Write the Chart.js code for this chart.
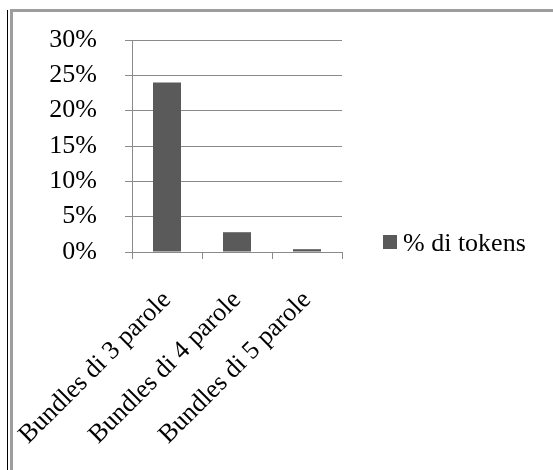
<!DOCTYPE html>
<html>
<head>
<meta charset="utf-8">
<script src="https://cdn.jsdelivr.net/npm/chart.js@4/dist/chart.umd.min.js"></script>
<style>
  html, body { margin: 0; padding: 0; background: #fff; }
  #wrap { position: relative; width: 553px; height: 470px; overflow: hidden; }
  .edge-dark { position: absolute; left: 7px; top: 10px; width: 1px; height: 460px; background: #000; }
  .edge-grey-top { position: absolute; left: 10px; top: 9px; width: 543px; height: 3px; background: #9d9d9d; }
  .edge-grey-left { position: absolute; left: 10px; top: 9px; width: 3px; height: 461px; background: #9d9d9d; }
  canvas { position: absolute; left: 0; top: 0; }
</style>
</head>
<body>
<div id="wrap">
  <div class="edge-dark"></div>
  <div class="edge-grey-top"></div>
  <div class="edge-grey-left"></div>
  <canvas id="c" width="553" height="470"></canvas>
</div>
<script>
// Share of tokens per lexical-bundle length
const categories = ['Bundles di 3 parole', 'Bundles di 4 parole', 'Bundles di 5 parole'];
const tokenShare = [24, 2.8, 0.4];
const seriesLabel = '% di tokens';
const yTicks = [0, 5, 10, 15, 20, 25, 30];

const FONT = 'Liberation Serif, "Times New Roman", serif';
const GRID = '#8a8a8a';
const BAR = '#5a5a5a';

// Legend drawn beside the plot, near the bottom of the plot area
const sideLegend = {
  id: 'sideLegend',
  afterDraw(chart) {
    const { ctx, chartArea } = chart;
    const ds = chart.data.datasets[0];
    const x = chartArea.right + 41;
    const cy = chartArea.bottom - 10;
    ctx.save();
    ctx.fillStyle = ds.backgroundColor;
    ctx.fillRect(x, cy - 7, 14, 14);
    ctx.fillStyle = '#000';
    ctx.font = '26px ' + FONT;
    ctx.textBaseline = 'middle';
    ctx.textAlign = 'left';
    ctx.fillText(ds.label, x + 20, cy + 2);
    ctx.restore();
  }
};

new Chart(document.getElementById('c'), {
  type: 'bar',
  data: {
    labels: categories,
    datasets: [{
      label: seriesLabel,
      data: tokenShare,
      backgroundColor: BAR,
      borderWidth: 0,
      barPercentage: 0.4,
      categoryPercentage: 1.0
    }]
  },
  options: {
    responsive: false,
    animation: false,
    devicePixelRatio: 1,
    layout: { padding: { left: 0, right: 211, top: 40, bottom: 0 } },
    plugins: { legend: { display: false }, tooltip: { enabled: false } },
    scales: {
      x: {
        grid: { display: true, drawOnChartArea: false, drawTicks: true, tickLength: 7, color: GRID, lineWidth: 1 },
        border: { display: true, color: GRID, width: 1 },
        ticks: {
          color: '#000',
          font: { family: FONT, size: 26 },
          minRotation: 45,
          maxRotation: 45,
          padding: 26,
          autoSkip: false
        },
        afterFit(scale) {
          scale.height = 218;
          scale.paddingLeft = 0;
          scale.paddingRight = 0;
        }
      },
      y: {
        min: 0,
        max: 30,
        afterBuildTicks(scale) { scale.ticks = yTicks.map(v => ({ value: v })); },
        grid: { display: true, drawOnChartArea: true, drawTicks: true, tickLength: 7, color: GRID, lineWidth: 1 },
        border: { display: true, color: GRID, width: 1 },
        ticks: {
          color: '#000',
          font: { family: FONT, size: 26 },
          padding: 28,
          callback: v => v + '%'
        },
        afterFit(scale) {
          scale.width = 132;
          scale.paddingTop = 0;
          scale.paddingBottom = 0;
        }
      }
    }
  },
  plugins: [sideLegend]
});
</script>
</body>
</html>
